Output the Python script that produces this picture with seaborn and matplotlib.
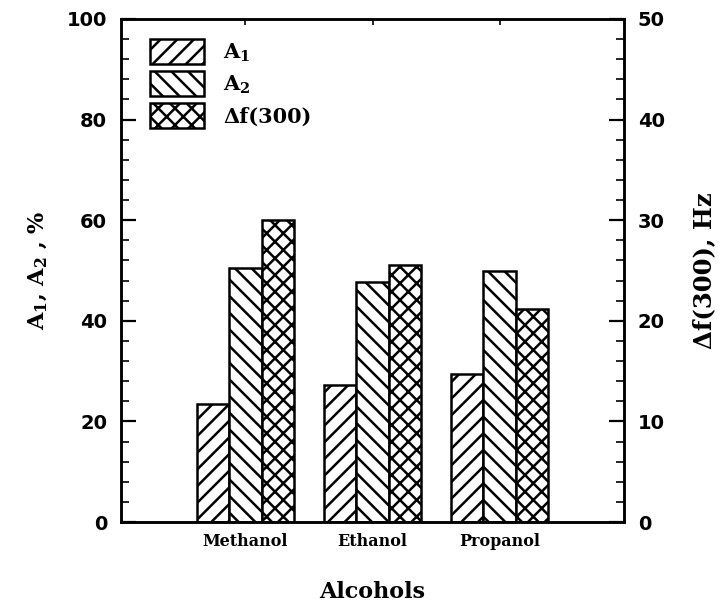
import matplotlib
matplotlib.use("Agg")
import matplotlib.pyplot as plt
import seaborn as sns
import pandas as pd
from matplotlib.patches import Patch

# ---- data ----
alcohols = ["Methanol", "Ethanol", "Propanol"]
A1 = [23.5, 27.3, 29.4]          # %
A2 = [50.4, 47.7, 49.9]          # %
df300 = [30.0, 25.5, 21.2]       # Hz (right axis)
series = ["A1", "A2", "df300"]
left_ticks = [0, 20, 40, 60, 80, 100]
right_ticks = [0, 10, 20, 30, 40, 50]

sns.set_theme(style="white")
plt.rcParams["font.family"] = ["DejaVu Sans"]
plt.rcParams["mathtext.fontset"] = "dejavuserif"
plt.rcParams["hatch.linewidth"] = 1.8
plt.rcParams["hatch.color"] = "black"
for k in ["text.color", "axes.labelcolor", "xtick.color", "ytick.color"]:
    plt.rcParams[k] = "black"

fig = plt.figure(figsize=(7.22, 6.04), dpi=100)
ax = fig.add_axes([121/722, 1-522/604, 503/722, 503/604])

left_max, right_max = 100, 50
scale = left_max / right_max  # map Hz onto the left axis

rows = []
for i, name in enumerate(alcohols):
    rows.append((name, "A1", A1[i]))
    rows.append((name, "A2", A2[i]))
    rows.append((name, "df300", df300[i] * scale))
data = pd.DataFrame(rows, columns=["alcohol", "series", "value"])

sns.barplot(data=data, x="alcohol", y="value", hue="series", order=alcohols,
            hue_order=series, palette=["white"] * 3, edgecolor="black",
            linewidth=1.8, width=0.77, gap=0, legend=False, ax=ax)

hatches = {"A1": "//", "A2": "\\\\", "df300": "xx"}
for cont, s in zip(ax.containers, series):
    for bar in cont:
        bar.set_hatch(hatches[s])
        bar.set_facecolor("white")
        bar.set_edgecolor("black")

ax.set_xlim(-0.98, 2.98)
ax.set_ylim(0, left_max)
ax.set_yticks(left_ticks)
ax.set_yticks(range(0, 101, 4), minor=True)
ax.set_xlabel("Alcohols", fontsize=16, fontweight="bold", family="DejaVu Serif", labelpad=22)
ax.set_ylabel(r"$\mathbf{A}_\mathbf{1}$, $\mathbf{A}_\mathbf{2}$ , %", fontsize=16,
              fontweight="bold", family="DejaVu Serif", labelpad=12)
for lbl in ax.get_xticklabels():
    lbl.set_fontfamily("DejaVu Serif")
    lbl.set_fontweight("bold")
    lbl.set_fontsize(11.5)
for lbl in ax.get_yticklabels():
    lbl.set_fontweight("bold")
    lbl.set_fontsize(14)

ax.tick_params(axis="x", bottom=False, top=True, direction="in", length=4, width=1.2,
               labelbottom=True, pad=8, colors="black")
ax.tick_params(axis="y", which="major", direction="in", length=11, width=1.6, pad=10,
               left=True, labelcolor="black", color="black")
ax.tick_params(axis="y", which="minor", direction="in", length=6, width=1.2, left=True, color="black")

for sp in ax.spines.values():
    sp.set_visible(True)
    sp.set_color("black")
    sp.set_linewidth(1.8)

ax2 = ax.twinx()
ax2.set_ylim(0, right_max)
ax2.set_yticks(right_ticks)
ax2.set_yticks(range(0, 51, 2), minor=True)
ax2.grid(False)
ax.grid(False)
ax2.tick_params(axis="y", which="major", direction="in", length=11, width=1.6, pad=10,
                right=True, color="black")
ax2.tick_params(axis="y", which="minor", direction="in", length=6, width=1.2, right=True, color="black")
for lbl in ax2.get_yticklabels():
    lbl.set_fontweight("bold")
    lbl.set_fontsize(14)
ax2.set_ylabel("Δf(300), Hz", fontsize=17.5, fontweight="bold", family="DejaVu Serif",
               labelpad=20)
for sp in ax2.spines.values():
    sp.set_color("black")
    sp.set_linewidth(1.8)

labels = [r"$\mathbf{A}_\mathbf{1}$", r"$\mathbf{A}_\mathbf{2}$", "Δf(300)"]
handles = [Patch(facecolor="white", edgecolor="black", hatch=hatches[s], linewidth=1.8)
           for s in series]
leg = ax.legend(handles, labels, loc="upper left", bbox_to_anchor=(0.058, 0.96),
                frameon=False, borderaxespad=0, borderpad=0, handlelength=2.6,
                handleheight=1.45, labelspacing=0.35, handletextpad=0.9,
                prop={"family": "DejaVu Serif", "weight": "bold", "size": 15})

fig.savefig("out.png", dpi=100)
